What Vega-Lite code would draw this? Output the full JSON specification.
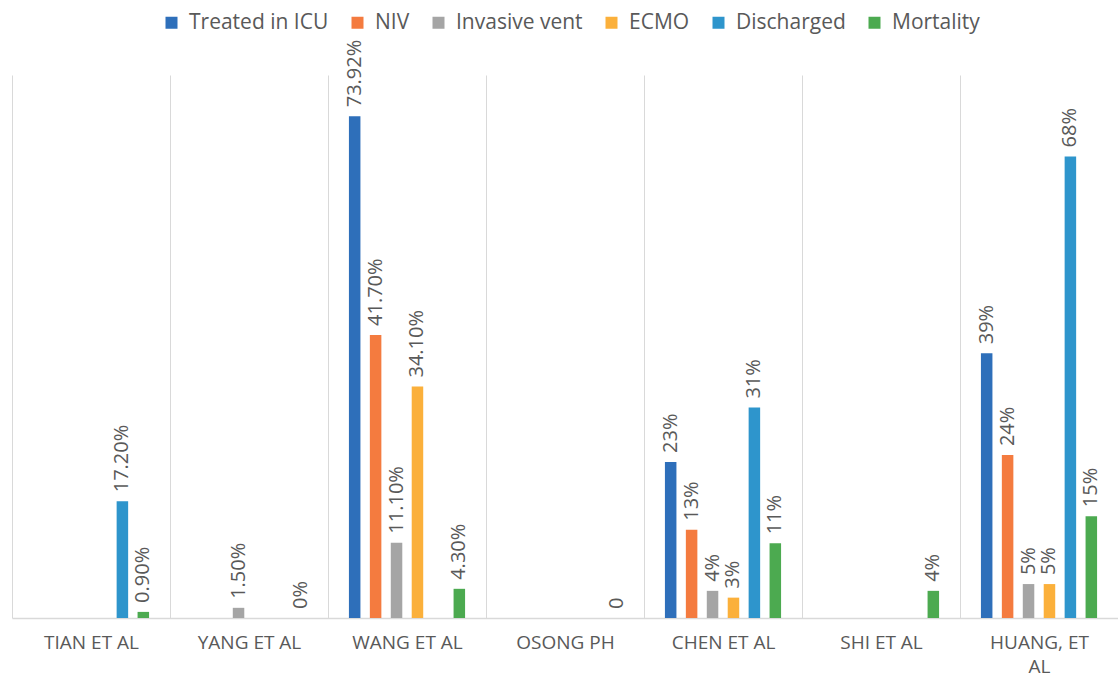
{
  "$schema": "https://vega.github.io/schema/vega-lite/v6.json",
  "width": 1106,
  "height": 543,
  "autosize": {"type": "none"},
  "padding": {"left": 12, "top": 75, "right": 0, "bottom": 59},
  "background": "white",
  "config": {
    "font": "Open Sans",
    "view": {"stroke": null}
  },
  "data": {
    "values": [
      {"study": "TIAN ET AL", "series": "Discharged", "value": 17.2, "label": "17.20%"},
      {"study": "TIAN ET AL", "series": "Mortality", "value": 0.9, "label": "0.90%"},
      {"study": "YANG ET AL", "series": "Invasive vent", "value": 1.5, "label": "1.50%"},
      {"study": "YANG ET AL", "series": "Mortality", "value": 0, "label": "0%"},
      {"study": "WANG ET AL", "series": "Treated in ICU", "value": 73.92, "label": "73.92%"},
      {"study": "WANG ET AL", "series": "NIV", "value": 41.7, "label": "41.70%"},
      {"study": "WANG ET AL", "series": "Invasive vent", "value": 11.1, "label": "11.10%"},
      {"study": "WANG ET AL", "series": "ECMO", "value": 34.1, "label": "34.10%"},
      {"study": "WANG ET AL", "series": "Mortality", "value": 4.3, "label": "4.30%"},
      {"study": "OSONG PH", "series": "Mortality", "value": 0, "label": "0"},
      {"study": "CHEN ET AL", "series": "Treated in ICU", "value": 23, "label": "23%"},
      {"study": "CHEN ET AL", "series": "NIV", "value": 13, "label": "13%"},
      {"study": "CHEN ET AL", "series": "Invasive vent", "value": 4, "label": "4%"},
      {"study": "CHEN ET AL", "series": "ECMO", "value": 3, "label": "3%"},
      {"study": "CHEN ET AL", "series": "Discharged", "value": 31, "label": "31%"},
      {"study": "CHEN ET AL", "series": "Mortality", "value": 11, "label": "11%"},
      {"study": "SHI ET AL", "series": "Mortality", "value": 4, "label": "4%"},
      {"study": "HUANG, ET AL", "series": "Treated in ICU", "value": 39, "label": "39%"},
      {"study": "HUANG, ET AL", "series": "NIV", "value": 24, "label": "24%"},
      {"study": "HUANG, ET AL", "series": "Invasive vent", "value": 5, "label": "5%"},
      {"study": "HUANG, ET AL", "series": "ECMO", "value": 5, "label": "5%"},
      {"study": "HUANG, ET AL", "series": "Discharged", "value": 68, "label": "68%"},
      {"study": "HUANG, ET AL", "series": "Mortality", "value": 15, "label": "15%"}
    ]
  },
  "encoding": {
    "x": {
      "field": "study",
      "type": "nominal",
      "sort": null,
      "scale": {
        "domain": ["TIAN ET AL", "YANG ET AL", "WANG ET AL", "OSONG PH", "CHEN ET AL", "SHI ET AL", "HUANG, ET AL"],
        "paddingInner": 0,
        "paddingOuter": 0
      },
      "axis": {
        "title": null,
        "labelAngle": 0,
        "labelFontSize": 19,
        "labelColor": "#595959",
        "labelPadding": 15,
        "labelLineHeight": 24,
        "labelExpr": "datum.value == 'HUANG, ET AL' ? ['HUANG, ET', 'AL'] : datum.value",
        "ticks": false,
        "tickBand": "extent",
        "grid": true,
        "gridColor": "#d9d9d9",
        "gridWidth": 1,
        "domainColor": "#d9d9d9",
        "domainWidth": 1.5
      }
    },
    "xOffset": {
      "field": "series",
      "type": "nominal",
      "scale": {
        "domain": ["Treated in ICU", "NIV", "Invasive vent", "ECMO", "Discharged", "Mortality"],
        "paddingInner": 0.45,
        "paddingOuter": 1.17
      }
    },
    "y": {
      "field": "value",
      "type": "quantitative",
      "scale": {"domain": [0, 80]},
      "axis": null
    }
  },
  "layer": [
    {
      "mark": {"type": "bar"},
      "encoding": {
        "color": {
          "field": "series",
          "type": "nominal",
          "scale": {
            "domain": ["Treated in ICU", "NIV", "Invasive vent", "ECMO", "Discharged", "Mortality"],
            "range": ["#2E6FBA", "#F47B3F", "#A5A5A5", "#FBB03B", "#2E95CC", "#4CAA50"]
          },
          "legend": {
            "title": null,
            "orient": "none",
            "direction": "horizontal",
            "legendX": 149,
            "legendY": -63,
            "symbolType": "square",
            "symbolSize": 144,
            "symbolStrokeWidth": 0,
            "labelFontSize": 21,
            "labelColor": "#595959",
            "labelOffset": 7,
            "columnPadding": 18,
            "labelLimit": 300
          }
        }
      }
    },
    {
      "mark": {
        "type": "text",
        "angle": 270,
        "align": "left",
        "baseline": "middle",
        "dx": 9,
        "fontSize": 20,
        "color": "#595959"
      },
      "encoding": {
        "text": {"field": "label", "type": "nominal"}
      }
    }
  ]
}
